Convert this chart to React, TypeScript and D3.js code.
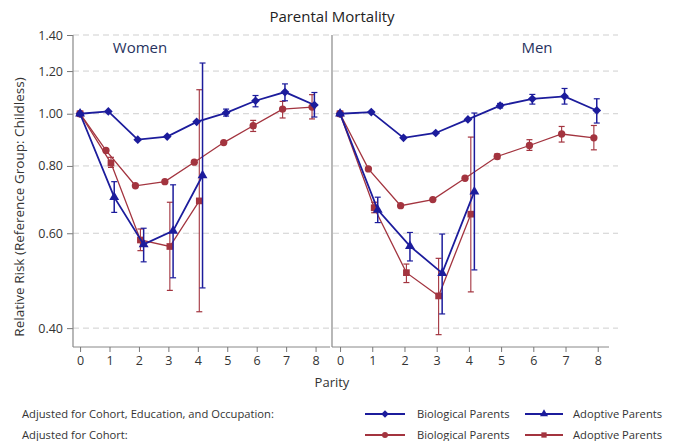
import { useEffect, useRef } from "react";
import * as d3 from "d3";

// parity 0..8
const parity = [0, 1, 2, 3, 4, 5, 6, 7, 8];
const adoptParity = [0, 1, 2, 3, 4];
const yTicks = [0.4, 0.6, 0.8, 1.0, 1.2, 1.4];

// Women
const womenBioFull = [1.0, 1.01, 0.895, 0.907, 0.966, 1.004, 1.057, 1.097, 1.038];
const womenBioFullLo = [null, null, null, null, null, 0.99, 1.03, 1.057, 0.986];
const womenBioFullHi = [null, null, null, null, null, 1.02, 1.081, 1.136, 1.095];
const womenBioCohort = [1.0, 0.855, 0.735, 0.748, 0.813, 0.884, 0.95, 1.02, 1.029];
const womenBioCohortLo = [null, null, null, null, null, null, 0.927, 0.982, 0.978];
const womenBioCohortHi = [null, null, null, null, null, null, 0.972, 1.054, 1.085];
const womenAdoptFull = [1.0, 0.7, 0.572, 0.606, 0.768];
const womenAdoptFullLo = [null, 0.656, 0.531, 0.496, 0.475];
const womenAdoptFullHi = [null, 0.748, 0.613, 0.738, 1.242];
const womenAdoptCohort = [1.0, 0.81, 0.583, 0.567, 0.689];
const womenAdoptCohortLo = [null, 0.795, 0.557, 0.47, 0.429];
const womenAdoptCohortHi = [null, 0.83, 0.611, 0.685, 1.108];

// Men
const menBioFull = [1.0, 1.007, 0.902, 0.921, 0.976, 1.035, 1.066, 1.077, 1.014];
const menBioFullLo = [null, null, null, null, null, 1.025, 1.042, 1.042, 0.961];
const menBioFullHi = [null, null, null, null, null, 1.045, 1.086, 1.114, 1.066];
const menBioCohort = [1.0, 0.79, 0.675, 0.693, 0.759, 0.833, 0.873, 0.917, 0.902];
const menBioCohortLo = [null, null, null, null, null, 0.825, 0.855, 0.886, 0.857];
const menBioCohortHi = [null, null, null, null, null, 0.842, 0.895, 0.947, 0.951];
const menAdoptFull = [1.0, 0.663, 0.568, 0.506, 0.717];
const menAdoptFullLo = [null, 0.628, 0.533, 0.425, 0.513];
const menAdoptFullHi = [null, 0.7, 0.602, 0.598, 1.003];
const menAdoptCohort = [1.0, 0.669, 0.507, 0.459, 0.651];
const menAdoptCohortLo = [null, 0.655, 0.486, 0.389, 0.467];
const menAdoptCohortHi = [null, 0.685, 0.526, 0.539, 0.905];

const BLUE = "#1c1c9c";
const RED = "#a3343f";
const FONT = "'Open Sans', sans-serif";

type Series = {
  x: number[];
  v: number[];
  lo: (number | null)[];
  hi: (number | null)[];
  color: string;
  symbol: d3.SymbolType;
  size: number;
  rotate: number;
  offset: number;
  width: number;
};

const App = () => {
  const svgRef = useRef<SVGSVGElement | null>(null);

  useEffect(() => {
    const svg = d3.select(svgRef.current);
    svg.selectAll("*").remove();
    const width = 673;
    const height = 441;
    const top = 35;
    const bottom = 347;

    const y = d3.scaleLog().domain([0.369, 1.4]).range([bottom, top]);

    const panels = [
      {
        name: "Women",
        x: d3.scaleLinear().domain([-0.24, 8.49]).range([73, 330]),
        series: [
          { x: parity, v: womenBioCohort, lo: womenBioCohortLo, hi: womenBioCohortHi, color: RED, symbol: d3.symbolCircle, size: 42, rotate: 0, offset: -0.12, width: 1.3 },
          { x: adoptParity, v: womenAdoptCohort, lo: womenAdoptCohortLo, hi: womenAdoptCohortHi, color: RED, symbol: d3.symbolSquare, size: 45, rotate: 0, offset: 0.05, width: 1.3 },
          { x: parity, v: womenBioFull, lo: womenBioFullLo, hi: womenBioFullHi, color: BLUE, symbol: d3.symbolSquare, size: 38, rotate: 45, offset: -0.04, width: 1.8 },
          { x: adoptParity, v: womenAdoptFull, lo: womenAdoptFullLo, hi: womenAdoptFullHi, color: BLUE, symbol: d3.symbolTriangle, size: 42, rotate: 0, offset: 0.16, width: 1.8 },
        ] as Series[],
      },
      {
        name: "Men",
        x: d3.scaleLinear().domain([-0.25, 8.35]).range([332, 609]),
        series: [
          { x: parity, v: menBioCohort, lo: menBioCohortLo, hi: menBioCohortHi, color: RED, symbol: d3.symbolCircle, size: 42, rotate: 0, offset: -0.12, width: 1.3 },
          { x: adoptParity, v: menAdoptCohort, lo: menAdoptCohortLo, hi: menAdoptCohortHi, color: RED, symbol: d3.symbolSquare, size: 45, rotate: 0, offset: 0.06, width: 1.3 },
          { x: parity, v: menBioFull, lo: menBioFullLo, hi: menBioFullHi, color: BLUE, symbol: d3.symbolSquare, size: 38, rotate: 45, offset: -0.03, width: 1.8 },
          { x: adoptParity, v: menAdoptFull, lo: menAdoptFullLo, hi: menAdoptFullHi, color: BLUE, symbol: d3.symbolTriangle, size: 42, rotate: 0, offset: 0.17, width: 1.8 },
        ] as Series[],
      },
    ];

    // gridlines
    svg
      .append("g")
      .selectAll("line")
      .data(yTicks)
      .enter()
      .append("line")
      .attr("x1", 73)
      .attr("x2", 618)
      .attr("y1", (d) => y(d))
      .attr("y2", (d) => y(d))
      .attr("stroke", "#cfcfcf")
      .attr("stroke-dasharray", "6,4");

    // y axis
    const yAxis = d3
      .axisLeft(y)
      .tickValues(yTicks)
      .tickFormat((d) => d3.format(".2f")(d as number))
      .tickSize(6)
      .tickPadding(4);
    const yg = svg.append("g").attr("transform", "translate(73,0)").call(yAxis);
    yg.select(".domain").remove();
    yg.selectAll("line").attr("stroke", "#777");
    yg.selectAll("text").attr("font-family", FONT).attr("font-size", 12.5).attr("fill", "#333");

    panels.forEach((p) => {
      const [x0, x1] = p.x.range();
      // frame lines
      svg.append("line").attr("x1", x0).attr("x2", x0).attr("y1", top).attr("y2", bottom).attr("stroke", "#888").attr("stroke-width", 1.2);
      const xAxis = d3.axisBottom(p.x).tickValues(parity).tickFormat((d) => `${d}`).tickSize(5).tickPadding(4);
      const xg = svg.append("g").attr("transform", `translate(0,${bottom})`).call(xAxis);
      xg.select(".domain").attr("stroke", "#888").attr("d", `M${x0},0H${x1}`);
      xg.selectAll("line").attr("stroke", "#777");
      xg.selectAll("text").attr("font-family", FONT).attr("font-size", 12.5).attr("fill", "#333");

      svg
        .append("text")
        .attr("x", p.name === "Women" ? 140 : 537)
        .attr("y", 53)
        .attr("text-anchor", "middle")
        .attr("font-family", FONT)
        .attr("font-size", 15)
        .attr("fill", "#27325e")
        .text(p.name);

      p.series.forEach((s) => {
        const px = (i: number) => p.x(s.x[i] + (s.x[i] === 0 ? 0 : s.offset));
        const g = svg.append("g");
        // error bars
        s.x.forEach((_, i) => {
          const lo = s.lo[i];
          const hi = s.hi[i];
          if (lo == null || hi == null) return;
          const cx = px(i);
          g.append("line").attr("x1", cx).attr("x2", cx).attr("y1", y(lo)).attr("y2", y(hi)).attr("stroke", s.color).attr("stroke-width", s.width === 1.8 ? 1.5 : 1.1);
          [lo, hi].forEach((v) => {
            g.append("line").attr("x1", cx - 3).attr("x2", cx + 3).attr("y1", y(v)).attr("y2", y(v)).attr("stroke", s.color).attr("stroke-width", 1.2);
          });
        });
        const line = d3
          .line<number>()
          .x((_, i) => px(i))
          .y((d) => y(d));
        g.append("path").attr("d", line(s.v)).attr("fill", "none").attr("stroke", s.color).attr("stroke-width", s.width);
        g.selectAll("path.m")
          .data(s.v)
          .enter()
          .append("path")
          .attr("class", "m")
          .attr("transform", (d, i) => `translate(${px(i)},${y(d)}) rotate(${s.rotate})`)
          .attr("d", d3.symbol().type(s.symbol).size(s.size)())
          .attr("fill", s.color);
      });
    });

    // titles
    svg.append("text").attr("x", 332).attr("y", 22).attr("text-anchor", "middle").attr("font-family", FONT).attr("font-size", 15).attr("fill", "#222").text("Parental Mortality");
    svg.append("text").attr("x", 332).attr("y", 387).attr("text-anchor", "middle").attr("font-family", FONT).attr("font-size", 13).attr("fill", "#333").text("Parity");
    svg
      .append("text")
      .attr("transform", "translate(24,207) rotate(-90)")
      .attr("text-anchor", "middle")
      .attr("font-family", FONT)
      .attr("font-size", 13.5)
      .attr("fill", "#333")
      .text("Relative Risk (Reference Group: Childless)");

    // legend
    const rows = [
      { label: "Adjusted for Cohort, Education, and Occupation:", color: BLUE, bio: d3.symbolSquare, bioRot: 45, adopt: d3.symbolTriangle, yy: 414 },
      { label: "Adjusted for Cohort:", color: RED, bio: d3.symbolCircle, bioRot: 0, adopt: d3.symbolSquare, yy: 435 },
    ];
    rows.forEach((r) => {
      svg.append("text").attr("x", 22).attr("y", r.yy + 4).attr("font-family", FONT).attr("font-size", 11.2).attr("fill", "#333").text(r.label);
      [
        { x: 365, w: 40, tx: 417, sym: r.bio, rot: r.bioRot, txt: "Biological Parents" },
        { x: 525, w: 38, tx: 573, sym: r.adopt, rot: 0, txt: "Adoptive Parents" },
      ].forEach((it) => {
        svg.append("line").attr("x1", it.x).attr("x2", it.x + it.w).attr("y1", r.yy).attr("y2", r.yy).attr("stroke", r.color).attr("stroke-width", 1.8);
        svg.append("path").attr("transform", `translate(${it.x + it.w / 2},${r.yy}) rotate(${it.rot})`).attr("d", d3.symbol().type(it.sym).size(28)()).attr("fill", r.color);
        svg.append("text").attr("x", it.tx).attr("y", r.yy + 4).attr("font-family", FONT).attr("font-size", 11.2).attr("fill", "#333").text(it.txt);
      });
    });

    svg.attr("width", width).attr("height", height);
  }, []);

  return (
    <div style={{ position: "absolute", left: 0, top: 0, background: "#fff" }}>
      <svg ref={svgRef} width={673} height={441} style={{ display: "block" }}></svg>
    </div>
  );
};

export default App;
